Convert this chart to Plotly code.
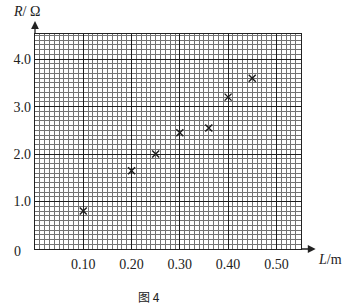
import plotly.graph_objects as go

L_vals = [0.10, 0.20, 0.25, 0.30, 0.36, 0.40, 0.45]
R_vals = [0.80, 1.65, 2.00, 2.45, 2.55, 3.20, 3.60]

x_ticks = [0.10, 0.20, 0.30, 0.40, 0.50]
x_ticktext = ["0.10", "0.20", "0.30", "0.40", "0.50"]
y_ticks = [1, 2, 3, 4]
y_ticktext = ["1.0", "2.0", "3.0", "4.0"]

SERIF = "Liberation Serif, Times New Roman, serif"

fig = go.Figure()
fig.add_trace(go.Scatter(
    x=L_vals, y=R_vals, mode="markers",
    marker=dict(symbol="x-thin", size=7, line=dict(width=1.4, color="#1a1a1a"), color="#1a1a1a"),
    showlegend=False, cliponaxis=False,
))

fig.update_xaxes(
    range=[0, 0.551], tickmode="array", tickvals=x_ticks, ticktext=x_ticktext,
    showgrid=True, gridcolor="#1e1e1e", gridwidth=1.3,
    minor=dict(tickmode="linear", tick0=0, dtick=0.01, showgrid=True, gridcolor="#747474", gridwidth=1),
    showline=True, linecolor="#222222", linewidth=1.3, mirror=True,
    ticks="", ticklabelstandoff=2,
    tickfont=dict(family=SERIF, size=14, color="#222"), zeroline=False,
)
fig.update_yaxes(
    range=[0, 4.53], tickmode="array", tickvals=y_ticks, ticktext=y_ticktext,
    showgrid=True, gridcolor="#1e1e1e", gridwidth=1.3,
    minor=dict(tickmode="linear", tick0=0, dtick=0.1, showgrid=True, gridcolor="#747474", gridwidth=1),
    showline=True, linecolor="#222222", linewidth=1.3, mirror=True,
    ticks="", tickfont=dict(family=SERIF, size=14, color="#222"), zeroline=False,
)

anns = [
    dict(x=1.055, y=0, xref="paper", yref="paper", ax=-16, ay=0, axref="pixel", ayref="pixel",
         showarrow=True, arrowhead=2, arrowsize=1.2, arrowwidth=1.3, arrowcolor="#222", text=""),
    dict(x=0, y=1.06, xref="paper", yref="paper", ax=0, ay=14, axref="pixel", ayref="pixel",
         showarrow=True, arrowhead=2, arrowsize=1.2, arrowwidth=1.3, arrowcolor="#222", text=""),
    dict(x=-0.09, y=1.105, xref="paper", yref="paper", text="<i>R</i>/ Ω", showarrow=False,
         xanchor="left", yanchor="middle", font=dict(family=SERIF, size=14, color="#222")),
    dict(x=1.055, y=-0.05, xref="paper", yref="paper", text="<i>L</i>/m", showarrow=False,
         xanchor="left", yanchor="middle", font=dict(family=SERIF, size=14, color="#222")),
    dict(x=-0.065, y=-0.012, xref="paper", yref="paper", text="0", showarrow=False,
         xanchor="center", yanchor="middle", font=dict(family=SERIF, size=14, color="#222")),
    dict(x=0.43, y=-0.22, xref="paper", yref="paper", text="图 4", showarrow=False,
         xanchor="center", yanchor="middle", font=dict(family="Noto Sans CJK SC", size=12, color="#222")),
]
fig.update_layout(
    width=351, height=304, margin=dict(l=35, r=50, t=34, b=55),
    paper_bgcolor="white", plot_bgcolor="white", annotations=anns,
)
fig.write_html("out.html")
